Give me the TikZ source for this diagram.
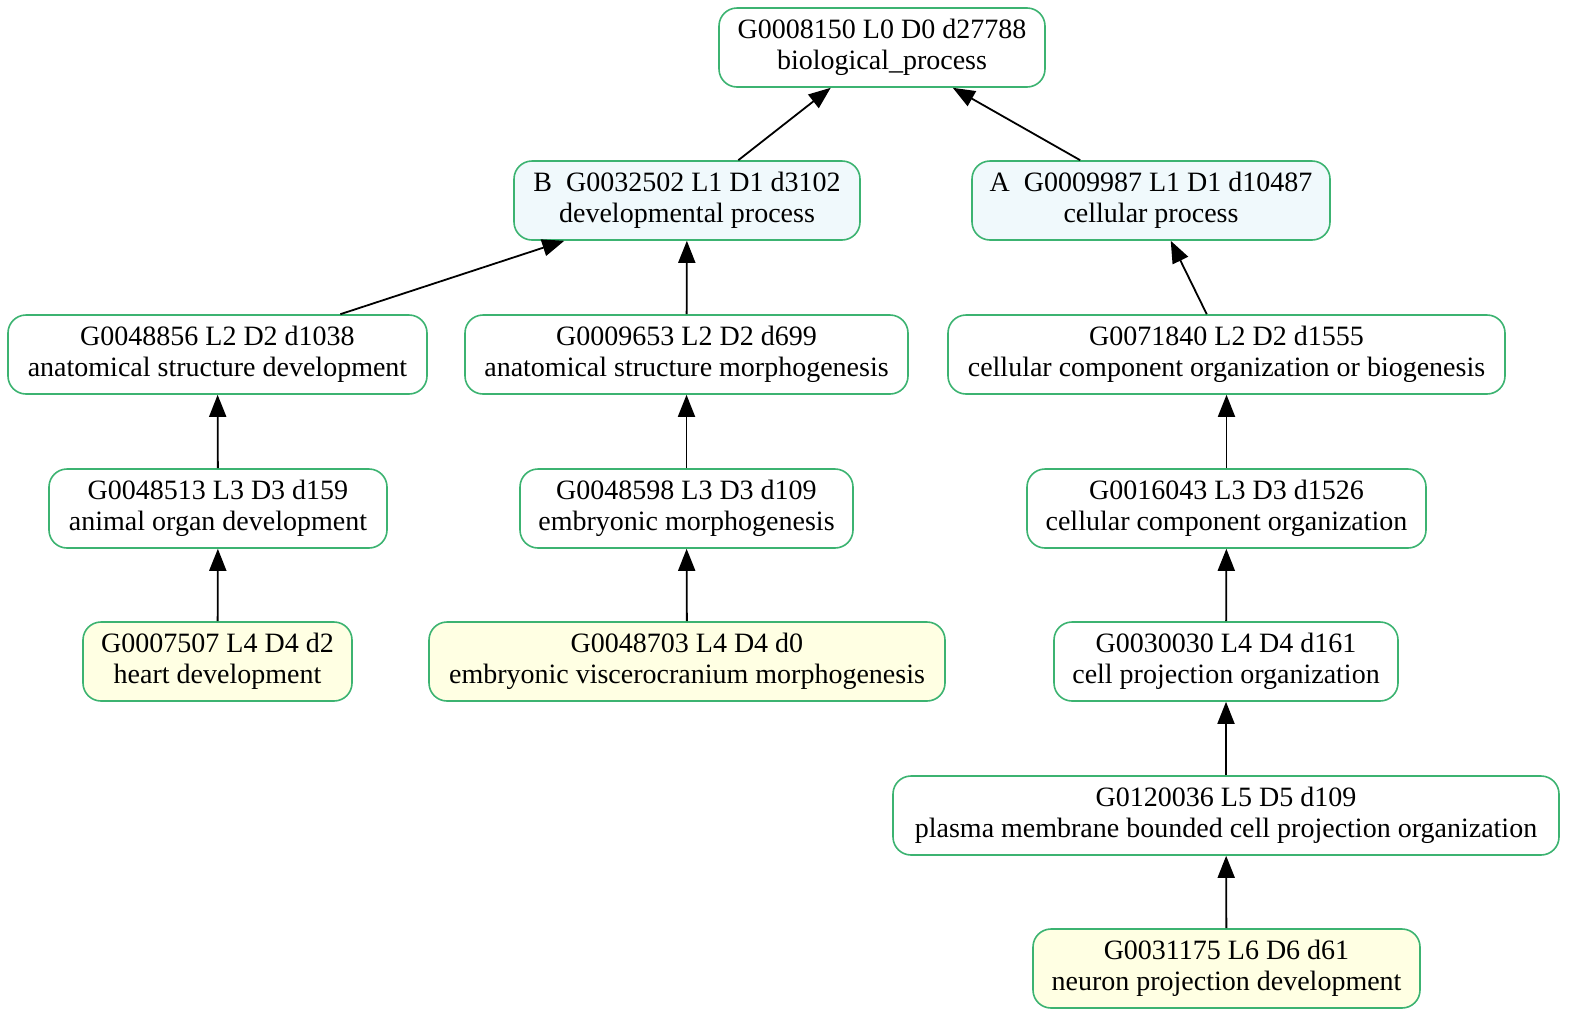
\documentclass[tikz,border=0pt]{standalone}
\usepackage{fontspec}
\setmainfont{Liberation Serif}
\usetikzlibrary{arrows.meta}
\definecolor{edgegreen}{HTML}{3CB371}
\definecolor{fillblue}{HTML}{F0F9FC}
\definecolor{fillyellow}{HTML}{FFFFE3}
\tikzset{
  gonode/.style={draw=edgegreen, line width=1.6pt, rounded corners=18pt, minimum height=79pt,
    align=center, inner sep=0pt, font=\fontsize{28}{31}\selectfont, fill=white,
    execute at begin node={\rule{0pt}{23pt}}},
  bluenode/.style={gonode, fill=fillblue},
  yellownode/.style={gonode, fill=fillyellow},
  isa/.style={line width=1.8pt, -{Triangle[length=22pt,width=17pt]}}
}
\begin{document}
\begin{tikzpicture}[x=1pt,y=-1pt]
\useasboundingbox (0,0) rectangle (1574,1021);
\node[gonode, minimum width=326pt] (n8150) at (882,47.5) {G0008150 L0 D0 d27788\\biological\_process};
\node[bluenode, minimum width=346pt] (n32502) at (687,200.5) {B\ \ G0032502 L1 D1 d3102\\developmental process};
\node[bluenode, minimum width=358pt] (n9987) at (1151,200.5) {A\ \ G0009987 L1 D1 d10487\\cellular process};
\node[gonode, minimum width=419pt] (n48856) at (217.5,354.5) {G0048856 L2 D2 d1038\\anatomical structure development};
\node[gonode, minimum width=443pt] (n9653) at (686.5,354.5) {G0009653 L2 D2 d699\\anatomical structure morphogenesis};
\node[gonode, minimum width=557pt] (n71840) at (1226.5,354.5) {G0071840 L2 D2 d1555\\cellular component organization or biogenesis};
\node[gonode, minimum width=338pt] (n48513) at (218,508.5) {G0048513 L3 D3 d159\\animal organ development};
\node[gonode, minimum width=333pt] (n48598) at (686.5,508.5) {G0048598 L3 D3 d109\\embryonic morphogenesis};
\node[gonode, minimum width=399pt] (n16043) at (1226.5,508.5) {G0016043 L3 D3 d1526\\cellular component organization};
\node[yellownode, minimum width=269pt] (n7507) at (217.5,661.5) {G0007507 L4 D4 d2\\heart development};
\node[yellownode, minimum width=516pt] (n48703) at (687,661.5) {G0048703 L4 D4 d0\\embryonic viscerocranium morphogenesis};
\node[gonode, minimum width=344pt] (n30030) at (1226,661.5) {G0030030 L4 D4 d161\\cell projection organization};
\node[gonode, minimum width=666pt] (n120036) at (1226,815.5) {G0120036 L5 D5 d109\\plasma membrane bounded cell projection organization};
\node[yellownode, minimum width=387pt] (n31175) at (1226.5,968.5) {G0031175 L6 D6 d61\\neuron projection development};
\draw[isa] (n32502) -- (n8150);
\draw[isa] (n9987) -- (n8150);
\draw[isa] (n48856) -- (n32502);
\draw[isa] (n9653) -- (n32502);
\draw[isa] (n71840) -- (n9987);
\draw[isa] (n48513) -- (n48856);
\draw[isa] (n48598) -- (n9653);
\draw[isa] (n16043) -- (n71840);
\draw[isa] (n7507) -- (n48513);
\draw[isa] (n48703) -- (n48598);
\draw[isa] (n30030) -- (n16043);
\draw[isa] (n120036) -- (n30030);
\draw[isa] (n31175) -- (n120036);
\end{tikzpicture}
\end{document}
